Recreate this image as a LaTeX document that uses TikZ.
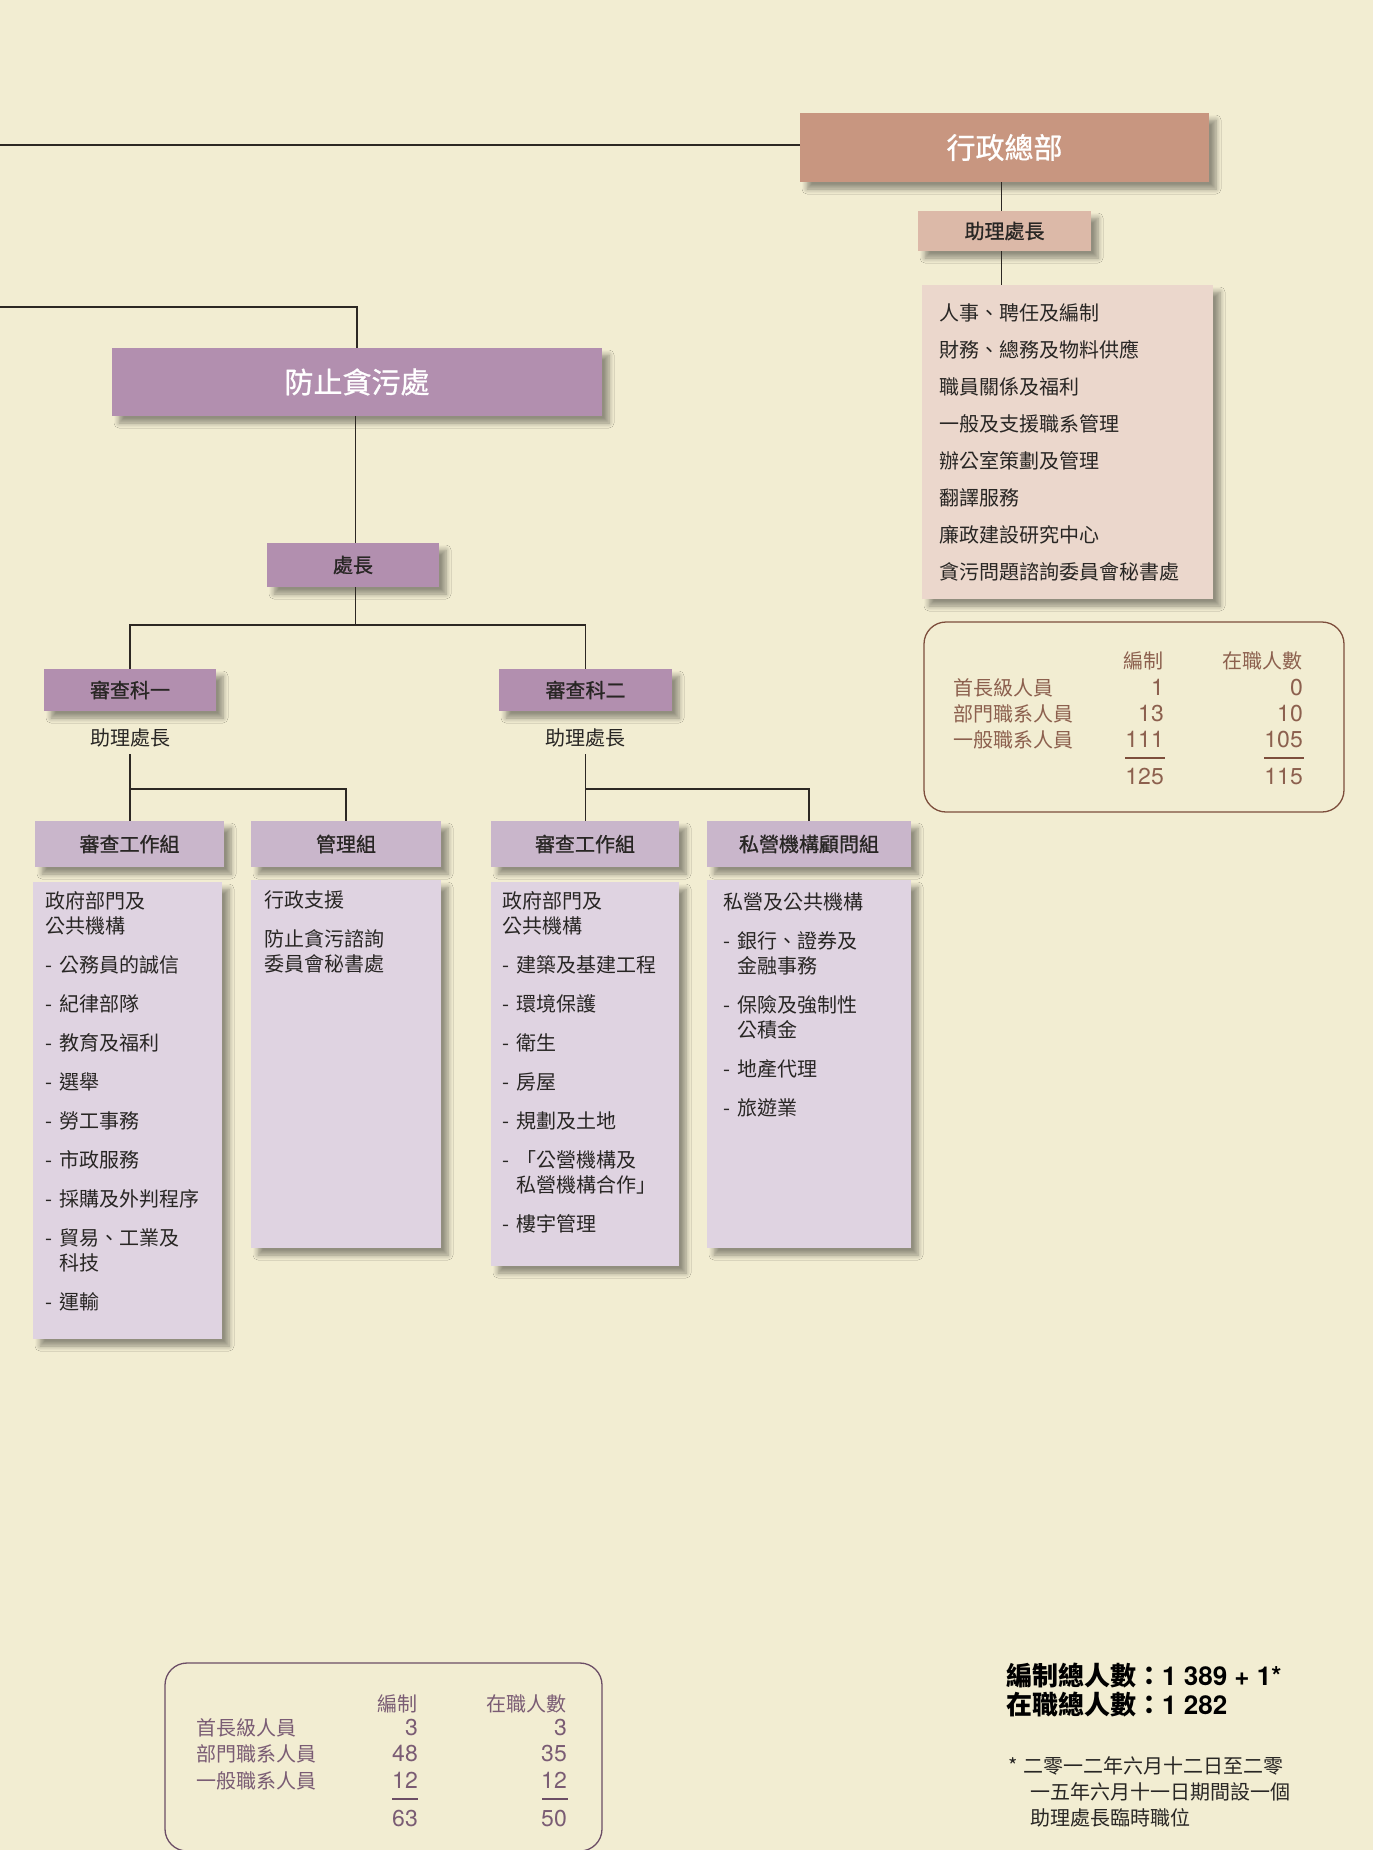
\documentclass[tikz,border=0pt]{standalone}
\usepackage{fontspec}
\setmainfont{Noto Sans CJK TC}
\newfontfamily\medf[FakeBold=0.9]{Noto Sans CJK TC}
\newfontfamily\hv{TeX Gyre Heros}
\usetikzlibrary{shadows.blur}
\definecolor{bg}{RGB}{242,237,210}
\definecolor{hqbox}{RGB}{200,150,128}
\definecolor{hqsub}{RGB}{220,185,168}
\definecolor{hqlist}{RGB}{235,215,204}
\definecolor{cpbox}{RGB}{178,143,175}
\definecolor{grpbox}{RGB}{201,182,203}
\definecolor{cntbox}{RGB}{223,211,225}
\definecolor{linec}{RGB}{45,40,35}
\definecolor{txt}{RGB}{40,38,36}
\definecolor{brtxt}{RGB}{140,96,78}
\definecolor{brline}{RGB}{125,78,60}
\definecolor{pptxt}{RGB}{122,92,116}
\definecolor{ppline}{RGB}{108,78,102}
\newcommand\dsh{\makebox[14pt][l]{-}}
\newcommand\contind{\hspace*{14pt}}
\begin{document}
\begin{tikzpicture}[x=1pt,y=-1pt,
  conn/.style={draw=linec, line width=1.3pt},
  shad/.style={blur shadow={shadow xshift=7pt,shadow yshift=-7pt,shadow blur radius=5pt,shadow blur steps=6,shadow opacity=40}},
  rbox/.style={rectangle, inner sep=0pt, outer sep=0pt, shad},
  bigtitle/.style={rbox, text=white, font=\medf\fontsize{29}{29}\selectfont},
  smallhdr/.style={rbox, text=txt, font=\medf\fontsize{20}{20}\selectfont},
  plain/.style={inner sep=0pt, outer sep=0pt, text=txt, font=\fontsize{20}{25}\selectfont},
  body/.style={plain, align=left, anchor=north west},
  stbox/.style={draw=#1, line width=1.3pt, rounded corners=22pt, inner sep=0pt},
  brc/.style={inner sep=0pt, text=brtxt, font=\fontsize{20}{20}\selectfont},
  brn/.style={inner sep=0pt, text=brtxt, font=\hv\fontsize{23}{23}\selectfont, anchor=base east},
  ppc/.style={inner sep=0pt, text=pptxt, font=\fontsize{20}{20}\selectfont},
  ppn/.style={inner sep=0pt, text=pptxt, font=\hv\fontsize{23}{23}\selectfont, anchor=base east},
]
\fill[bg] (0,0) rectangle (1373,1850);
\useasboundingbox (0,0) rectangle (1373,1850);

% ---------- 行政總部 ----------
\node[bigtitle, fill=hqbox, minimum width=409pt, minimum height=69pt] (zz) at (1004.5,147.5) {行政總部};
\node[smallhdr, fill=hqsub, minimum width=173pt, minimum height=40pt] (zl) at (1004.5,231) {助理處長};
\node[rbox, fill=hqlist, minimum width=291pt, minimum height=314pt, text width=257pt, inner xsep=17pt, align=left, text=txt, font=\fontsize{20}{37}\selectfont] (lb) at (1067.5,442)
 {人事、聘任及編制\\財務、總務及物料供應\\職員關係及福利\\一般及支援職系管理\\辦公室策劃及管理\\翻譯服務\\廉政建設研究中心\\貪污問題諮詢委員會秘書處};

\coordinate (L1) at (0,145);
\coordinate (L2) at (0,307);
\coordinate (vhq) at (1001.5,0);
\draw[conn] (zz.west |- L1) -- (L1);
\draw[conn] (vhq |- zz.south) -- (vhq |- zl.north);
\draw[conn] (vhq |- zl.south) -- (vhq |- lb.north);

% stats 1
\node[stbox=brline, minimum width=420pt, minimum height=190pt] (st1) at (1134,717) {};
\node[brc, anchor=base east] (s1h1) at (1164,668) {編制};
\node[brc, anchor=base east] (s1h2) at (1303,668) {在職人數};
\node[brc, anchor=base west] (s1l1) at (953,695) {首長級人員};
\node[brc, anchor=base west] (s1l2) at (953,721) {部門職系人員};
\node[brc, anchor=base west] (s1l3) at (953,747) {一般職系人員};
\node[brn] (s1a1) at (1164,695) {1};
\node[brn] (s1a2) at (1164,721) {13};
\node[brn] (s1a3) at (1164,747) {111};
\node[brn] (s1b1) at (1303,695) {0};
\node[brn] (s1b2) at (1303,721) {10};
\node[brn] (s1b3) at (1303,747) {105};
\draw[draw=brline, line width=1.3pt] (1125,758) -- (1165,758);
\draw[draw=brline, line width=1.3pt] (1264,758) -- (1304,758);
\node[brn] (s1at) at (1164,784) {125};
\node[brn] (s1bt) at (1303,784) {115};

% ---------- 防止貪污處 ----------
\node[bigtitle, fill=cpbox, minimum width=490pt, minimum height=68pt] (fz) at (357,382) {防止貪污處};
\node[smallhdr, fill=cpbox, minimum width=172pt, minimum height=44pt] (cz) at (353,565) {處長};
\coordinate (vcp) at (355.5,0);
\draw[conn] (L2) -| (fz.north);
\draw[conn] (vcp |- fz.south) -- (vcp |- cz.north);

\node[smallhdr, fill=cpbox, minimum width=172pt, minimum height=42pt] (k1) at (130,690) {審查科一};
\node[smallhdr, fill=cpbox, minimum width=173pt, minimum height=42pt] (k2) at (585.5,690) {審查科二};
\coordinate (bus1) at (0,625);
\draw[conn] (vcp |- cz.south) -- (vcp |- bus1);
\draw[conn] (k1.north) -- (k1.north |- bus1) -- (k2.north |- bus1) -- (k2.north);

\node[plain] (a1) at (130,738) {助理處長};
\node[plain] (a2) at (585.5,738) {助理處長};

\node[smallhdr, fill=grpbox, minimum width=189pt, minimum height=46pt] (ha) at (129.5,844) {審查工作組};
\node[smallhdr, fill=grpbox, minimum width=190pt, minimum height=46pt] (hb) at (346,844) {管理組};
\node[smallhdr, fill=grpbox, minimum width=188pt, minimum height=46pt] (hc) at (585,844) {審查工作組};
\node[smallhdr, fill=grpbox, minimum width=204pt, minimum height=46pt] (hd) at (809,844) {私營機構顧問組};

\coordinate (bus2) at (0,789);
\draw[conn] ([yshift=-7pt]a1.south) -- (a1.south |- ha.north);
\draw[conn] (a1.south |- bus2) -| (hb.north);
\draw[conn] ([yshift=-7pt]a2.south) -- (a2.south |- hc.north);
\draw[conn] (a2.south |- bus2) -| (hd.north);

% content boxes
\node[rbox, fill=cntbox, minimum width=189pt, minimum height=457pt] (ca) at (127.5,1110.5) {};
\node[rbox, fill=cntbox, minimum width=190pt, minimum height=368pt] (cb) at (346,1064) {};
\node[rbox, fill=cntbox, minimum width=188pt, minimum height=384pt] (cc) at (585,1074) {};
\node[rbox, fill=cntbox, minimum width=204pt, minimum height=368pt] (cd) at (809,1064) {};

\node[body] (ta) at (45,891) {政府部門及\\公共機構\\[14pt]\dsh 公務員的誠信\\[14pt]\dsh 紀律部隊\\[14pt]\dsh 教育及福利\\[14pt]\dsh 選舉\\[14pt]\dsh 勞工事務\\[14pt]\dsh 市政服務\\[14pt]\dsh 採購及外判程序\\[14pt]\dsh 貿易、工業及\\\contind 科技\\[14pt]\dsh 運輸};
\node[body] (tb) at (264,891) {行政支援\\[14pt]防止貪污諮詢\\委員會秘書處};
\node[body] (tc) at (502,891) {政府部門及\\公共機構\\[14pt]\dsh 建築及基建工程\\[14pt]\dsh 環境保護\\[14pt]\dsh 衛生\\[14pt]\dsh 房屋\\[14pt]\dsh 規劃及土地\\[14pt]\dsh「公營機構及\\\contind 私營機構合作」\\[14pt]\dsh 樓宇管理};
\node[body] (td) at (723,893) {私營及公共機構\\[14pt]\dsh 銀行、證券及\\\contind 金融事務\\[14pt]\dsh 保險及強制性\\\contind 公積金\\[14pt]\dsh 地產代理\\[14pt]\dsh 旅遊業};

% stats 2
\node[stbox=ppline, minimum width=437pt, minimum height=188pt] (st2) at (383.5,1757) {};
\node[ppc, anchor=base east] (s2h1) at (418,1711) {編制};
\node[ppc, anchor=base east] (s2h2) at (567,1711) {在職人數};
\node[ppc, anchor=base west] (s2l1) at (196,1735) {首長級人員};
\node[ppc, anchor=base west] (s2l2) at (196,1761) {部門職系人員};
\node[ppc, anchor=base west] (s2l3) at (196,1788) {一般職系人員};
\node[ppn] (s2a1) at (418,1735) {3};
\node[ppn] (s2a2) at (418,1761) {48};
\node[ppn] (s2a3) at (418,1788) {12};
\node[ppn] (s2b1) at (567,1735) {3};
\node[ppn] (s2b2) at (567,1761) {35};
\node[ppn] (s2b3) at (567,1788) {12};
\draw[draw=ppline, line width=1.3pt] (392,1799) -- (418,1799);
\draw[draw=ppline, line width=1.3pt] (542,1799) -- (568,1799);
\node[ppn] (s2at) at (418,1826) {63};
\node[ppn] (s2bt) at (567,1826) {50};

% totals
\node[inner sep=0pt, anchor=base west, text=black, font=\bfseries\fontsize{26}{26}\selectfont] (tot1) at (1006,1685) {編制總人數：{\hv\bfseries 1 389 + 1*}};
\node[inner sep=0pt, anchor=base west, text=black, font=\bfseries\fontsize{26}{26}\selectfont] (tot2) at (1006,1714) {在職總人數：{\hv\bfseries 1 282}};
\node[inner sep=0pt, anchor=base west, text=txt, font=\fontsize{20}{20}\selectfont] (fn1) at (1008,1773) {\makebox[15pt][l]{*}二零一二年六月十二日至二零};
\node[inner sep=0pt, anchor=base west, text=txt, font=\fontsize{20}{20}\selectfont] (fn2) at (1030,1799) {一五年六月十一日期間設一個};
\node[inner sep=0pt, anchor=base west, text=txt, font=\fontsize{20}{20}\selectfont] (fn3) at (1030,1825) {助理處長臨時職位};
\end{tikzpicture}
\end{document}
